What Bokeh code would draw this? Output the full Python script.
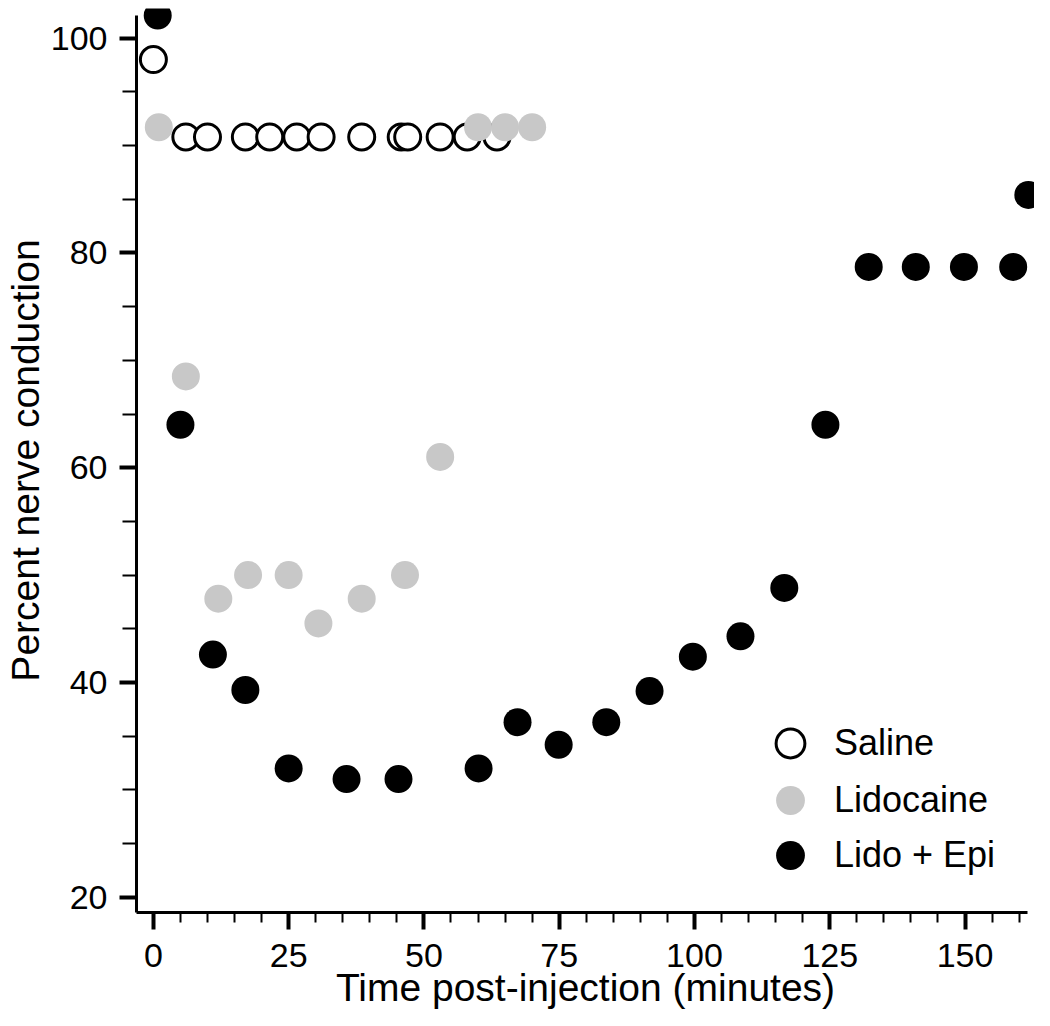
from bokeh.plotting import figure
from bokeh.models import Range1d, FixedTicker, Legend, LegendItem
from bokeh.embed import file_html
from bokeh.resources import INLINE

# ---- data ----
saline_t = [0, 6, 10, 17, 21.5, 26.5, 31, 38.5, 45.8, 47.0, 53, 58, 63.5]
saline_v = [98, 90.8, 90.8, 90.8, 90.8, 90.8, 90.8, 90.8, 90.8, 90.8, 90.8, 90.8, 90.8]

lido_t = [1, 6, 12, 17.5, 25, 30.5, 38.5, 46.5, 53, 60, 65, 70]
lido_v = [91.7, 68.5, 47.8, 50.0, 50.0, 45.5, 47.8, 50.0, 61.0, 91.7, 91.7, 91.7]

epi_t = [0.8, 5, 11, 17, 25, 35.7, 45.3, 60.1, 67.3, 74.9, 83.7, 91.7, 99.7,
         108.5, 116.6, 124.2, 132.2, 140.9, 149.8, 158.9, 161.7]
epi_v = [102.1, 64.0, 42.6, 39.3, 32.0, 31.0, 31.0, 32.0, 36.3, 34.2, 36.3, 39.2,
         42.4, 44.3, 48.8, 64.0, 78.7, 78.7, 78.7, 78.7, 85.4]

x_major = [0, 25, 50, 75, 100, 125, 150]
x_minor = [t for t in range(5, 165, 5) if t % 25 != 0]
y_major = [20, 40, 60, 80, 100]
y_minor = [v for v in range(25, 100, 5) if v % 20 != 0]

x_title = "Time post-injection (minutes)"
y_title = "Percent nerve conduction"
series_names = ["Saline", "Lidocaine", "Lido + Epi"]

FONT = "Liberation Sans"

p = figure(width=1034, height=1021, output_backend="svg", toolbar_location=None,
           x_range=Range1d(-3.12, 162.84), y_range=Range1d(18.58, 102.76),
           min_border_left=129, min_border_right=0, min_border_top=8,
           min_border_bottom=109)
p.outline_line_color = None
p.xgrid.visible = False
p.ygrid.visible = False
p.background_fill_color = "white"
p.border_fill_color = "white"

r_sal = p.scatter(x=saline_t, y=saline_v, marker="circle", size=26, fill_color="white",
                  line_color="black", line_width=3)
r_lid = p.scatter(x=lido_t, y=lido_v, marker="circle", size=28, fill_color="#c8c8c8",
                  line_color=None)
r_epi = p.scatter(x=epi_t, y=epi_v, marker="circle", size=28, fill_color="black",
                  line_color=None)

xa = p.xaxis[0]
xa.ticker = FixedTicker(ticks=x_major, minor_ticks=x_minor)
xa.bounds = (-3.12, 161.5)
xa.axis_label = x_title
ya = p.yaxis[0]
ya.ticker = FixedTicker(ticks=y_major, minor_ticks=y_minor)
ya.bounds = (18.58, 102.1)
ya.axis_label = y_title

for ax in (xa, ya):
    ax.axis_line_width = 3
    ax.axis_line_color = "black"
    ax.major_tick_in = 0
    ax.major_tick_out = 17
    ax.minor_tick_in = 0
    ax.major_tick_line_width = 4
    ax.minor_tick_line_width = 2
    ax.major_label_text_font = FONT
    ax.major_label_text_font_size = "34px"
    ax.major_label_text_color = "black"
    ax.axis_label_text_font = FONT
    ax.axis_label_text_font_size = "39px"
    ax.axis_label_text_font_style = "normal"
    ax.axis_label_text_color = "black"
xa.minor_tick_out = 10
ya.minor_tick_out = 14
xa.major_label_standoff = 14
ya.major_label_standoff = 12
xa.axis_label_standoff = -4
ya.axis_label_standoff = 1

# one single-item legend per row, so the rows can sit closer than the glyph box
for r, name, loc in zip([r_sal, r_lid, r_epi], series_names,
                        [(618, 133), (618, 76), (618, 21)]):
    lg = Legend(items=[LegendItem(label=name, renderers=[r])], location=loc,
                glyph_width=72, glyph_height=72, label_standoff=8, padding=0,
                margin=0, border_line_color=None, background_fill_alpha=0,
                label_text_font=FONT, label_text_font_size="36px",
                label_text_color="black")
    p.add_layout(lg)

open("out.html", "w").write(file_html(p, INLINE))
